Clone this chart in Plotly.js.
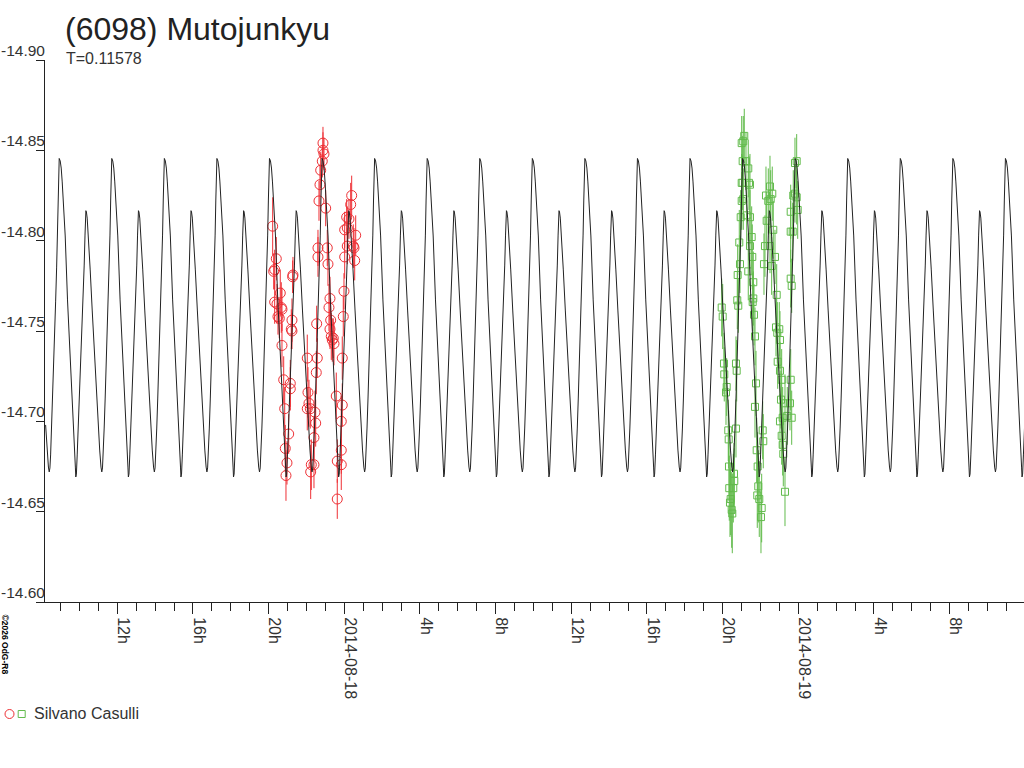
<!DOCTYPE html>
<html><head><meta charset="utf-8">
<script src="https://cdn.plot.ly/plotly-3.0.1.min.js"></script>
<style>html,body{margin:0;padding:0;background:#fff}#chart{width:1024px;height:768px}</style>
</head><body><div id="chart"></div>
<script>
// ---- data (times in hours from 2014-08-18 00:00) ----
const EPOCH = Date.UTC(2014, 7, 18, 0, 0, 0);
const PERIOD_DAYS = 0.11578;
const PEAK_HOUR = -12.29;           // epoch of a primary maximum of the fit
const X_RANGE_HOURS = [-15.82, 35.93];

// one period of the fitted light curve (phase 0 = primary maximum)
const fitPhase = [0,.0190,.0380,.0570,.0856,.1141,.1578,.1901,.2281,.2662,
  .2947,.3080,.3156,.3270,.3422,.3707,.3992,.4278,.4563,.4753,
  .4905,.5,.5076,.5171,.5323,.5608,.5894,.6274,.6654,.7034,
  .7414,.7700,.7947,.8099,.8232,.8365,.8555,.8745,.8935,.9125,
  .9316,.9506,.9658,.9791,.9886,.9943];
const fitMag = [-14.8455,-14.8441,-14.8402,-14.8325,-14.8181,-14.8026,-14.7672,-14.7489,-14.7273,-14.7046,
  -14.6852,-14.6742,-14.6692,-14.6708,-14.6814,-14.7018,-14.7229,-14.7450,-14.7699,-14.7865,
  -14.8031,-14.8125,-14.8166,-14.8159,-14.8125,-14.8004,-14.7838,-14.7616,-14.7395,-14.7173,
  -14.6980,-14.6841,-14.6747,-14.6720,-14.6742,-14.6814,-14.6963,-14.7129,-14.7301,-14.7478,
  -14.7661,-14.7849,-14.8031,-14.8225,-14.8347,-14.8413];

const redHours = [-3.785,-3.594,-3.679,-3.732,-3.383,-3.679,-3.558,-3.330,-3.293,-3.505,
  -3.436,-3.293,-3.203,-3.150,-2.939,-3.119,-3.029,-3.082,-2.712,-2.728,
  -2.765,-2.802,-2.765,-2.854,-2.854,-1.956,-1.427,-1.480,-1.459,-1.919,
  -1.866,-1.956,-1.797,-1.549,-1.512,-1.602,-1.744,-1.602,-1.776,-1.390,
  -1.390,-0.899,-0.862,-1.337,-0.983,-1.285,-1.247,-1.163,-1.126,-1.073,
  -1.126,-0.756,-0.809,-0.719,-0.756,-0.687,-0.634,-0.581,-0.544,-0.423,
  -0.106,-0.159,-0.159,-0.370,-0.159,-0.370,-0.106,-0.053,-0.016,0.391,
  0.338,0.127,0.248,0.159,0.021,0.603,0.159,0.476,0.513,0.021,
  0.550];
const redMag = [-14.808,-14.790,-14.784,-14.783,-14.771,-14.766,-14.765,-14.763,-14.762,-14.758,
  -14.757,-14.742,-14.723,-14.707,-14.693,-14.685,-14.677,-14.670,-14.781,-14.780,
  -14.756,-14.751,-14.750,-14.721,-14.718,-14.735,-14.735,-14.727,-14.754,-14.716,
  -14.710,-14.707,-14.707,-14.705,-14.699,-14.691,-14.676,-14.676,-14.672,-14.796,
  -14.791,-14.796,-14.787,-14.822,-14.818,-14.831,-14.839,-14.844,-14.850,-14.848,
  -14.854,-14.768,-14.763,-14.756,-14.751,-14.747,-14.745,-14.746,-14.743,-14.714,
  -14.709,-14.700,-14.684,-14.678,-14.676,-14.657,-14.735,-14.758,-14.772,-14.825,
  -14.820,-14.813,-14.812,-14.807,-14.806,-14.803,-14.797,-14.797,-14.796,-14.791,
  -14.789];
const redErr = [0.016,0.012,0.011,0.010,0.013,0.012,0.011,0.014,0.012,0.010,
  0.011,0.012,0.013,0.012,0.011,0.013,0.012,0.014,0.010,0.009,
  0.012,0.011,0.010,0.013,0.012,0.013,0.011,0.012,0.010,0.014,
  0.013,0.012,0.011,0.012,0.013,0.012,0.014,0.013,0.015,0.010,
  0.011,0.010,0.012,0.011,0.010,0.011,0.010,0.009,0.010,0.009,
  0.009,0.012,0.013,0.012,0.011,0.013,0.012,0.011,0.012,0.013,
  0.012,0.014,0.013,0.012,0.014,0.011,0.012,0.011,0.010,0.011,
  0.012,0.010,0.011,0.012,0.010,0.011,0.010,0.012,0.011,0.012,
  0.011];

const greenHours = [19.950,20.003,20.071,20.087,20.214,20.177,20.298,20.320,20.335,20.351,
  20.425,20.388,20.478,20.510,20.600,20.615,20.563,20.705,20.705,20.742,
  20.774,20.827,20.795,20.917,20.880,20.954,21.007,21.091,21.007,21.059,
  21.059,21.234,21.007,21.091,21.144,21.355,21.392,21.445,21.271,21.445,
  21.535,21.445,21.567,21.355,21.620,21.620,21.588,21.657,21.710,21.763,
  21.710,22.117,22.148,21.800,21.852,21.884,21.831,21.937,22.064,22.027,
  22.291,22.503,22.624,22.328,22.413,22.540,22.238,22.503,22.677,22.185,
  22.592,22.767,22.857,22.820,22.994,22.889,23.031,22.910,23.031,23.121,
  23.084,23.031,23.174,23.296,23.560,23.121,23.174,23.206,23.296,23.417,
  23.650,23.597,23.597,23.650,23.597,23.703,23.597,23.734,23.824,23.914,
  23.967,23.824,23.914];
const greenMag = [-14.763,-14.758,-14.732,-14.726,-14.719,-14.716,-14.695,-14.690,-14.675,-14.663,
  -14.657,-14.655,-14.651,-14.649,-14.671,-14.667,-14.663,-14.696,-14.732,-14.728,
  -14.767,-14.764,-14.781,-14.787,-14.799,-14.813,-14.822,-14.823,-14.832,-14.832,
  -14.844,-14.844,-14.854,-14.855,-14.858,-14.840,-14.832,-14.831,-14.814,-14.813,
  -14.802,-14.797,-14.791,-14.783,-14.777,-14.768,-14.766,-14.759,-14.747,-14.721,
  -14.708,-14.695,-14.689,-14.684,-14.675,-14.664,-14.659,-14.657,-14.652,-14.647,
  -14.825,-14.830,-14.826,-14.811,-14.822,-14.823,-14.797,-14.797,-14.806,-14.787,
  -14.786,-14.791,-14.770,-14.752,-14.751,-14.749,-14.745,-14.733,-14.728,-14.723,
  -14.712,-14.700,-14.702,-14.710,-14.710,-14.692,-14.687,-14.682,-14.661,-14.703,
  -14.702,-14.723,-14.779,-14.775,-14.805,-14.805,-14.816,-14.825,-14.826,-14.824,
  -14.817,-14.843,-14.844];
const greenErr = [0.016,0.018,0.017,0.015,0.016,0.018,0.017,0.016,0.019,0.018,
  0.020,0.019,0.021,0.022,0.017,0.018,0.019,0.016,0.015,0.017,
  0.016,0.015,0.017,0.016,0.018,0.015,0.016,0.017,0.016,0.015,
  0.014,0.016,0.015,0.014,0.015,0.016,0.015,0.017,0.016,0.015,
  0.017,0.016,0.018,0.016,0.017,0.015,0.016,0.017,0.016,0.018,
  0.017,0.016,0.015,0.018,0.019,0.020,0.018,0.021,0.019,0.020,
  0.016,0.017,0.015,0.016,0.018,0.016,0.017,0.015,0.016,0.017,
  0.016,0.015,0.017,0.016,0.015,0.017,0.016,0.015,0.016,0.017,
  0.016,0.015,0.017,0.016,0.015,0.016,0.017,0.018,0.019,0.016,
  0.015,0.017,0.016,0.015,0.017,0.016,0.015,0.014,0.016,0.015,
  0.016,0.014,0.015];

const xTickHours = [-12,-8,-4,0,4,8,12,16,20,24,28,32];
const xTickText = ['12h','16h','20h','2014-08-18','4h','8h','12h','16h','20h','2014-08-19','4h','8h'];
const yTickVals = [-14.90,-14.85,-14.80,-14.75,-14.70,-14.65,-14.60];
const yTickText = ['-14.90','-14.85','-14.80','-14.75','-14.70','-14.65','-14.60'];

// ---- build ----
function toDate(h){ return new Date(EPOCH + h*3600000).toISOString().replace('T',' ').replace('Z',''); }
const P_H = PERIOD_DAYS*24;
const fitX = [], fitY = [];
for (let k = -6; k <= 20; k++) {
  for (let i = 0; i < fitPhase.length; i++) {
    const h = PEAK_HOUR + (k + fitPhase[i]) * P_H;
    if (h >= X_RANGE_HOURS[0] - 0.05 && h <= X_RANGE_HOURS[1] + 0.05) { fitX.push(toDate(h)); fitY.push(fitMag[i]); }
  }
}
const RED = '#ee3035', GREEN = '#62bb4c', INK = '#222';
const traces = [
  {type:'scatter', mode:'markers', x:redHours.map(toDate), y:redMag,
   marker:{symbol:'circle-open', size:10, color:RED, line:{width:1, color:RED}},
   error_y:{type:'data', array:redErr, visible:true, color:RED, thickness:1, width:0}, hoverinfo:'skip'},
  {type:'scatter', mode:'markers', x:greenHours.map(toDate), y:greenMag,
   marker:{symbol:'square-open', size:7, color:GREEN, line:{width:1, color:GREEN}},
   error_y:{type:'data', array:greenErr, visible:true, color:GREEN, thickness:1, width:0}, hoverinfo:'skip'},
  {type:'scatter', mode:'lines', x:fitX, y:fitY, line:{color:INK, width:1}, hoverinfo:'skip'}
];

const FONT = '"Liberation Sans", Arial, sans-serif';
const annotations = yTickVals.map((v,i)=>({
  xref:'paper', x:0, xanchor:'right', xshift:2, yref:'y', y:v, yanchor:'bottom', yshift:-1,
  text:yTickText[i], showarrow:false, font:{size:15.5, color:'#333', family:FONT}
}));
annotations.push({xref:'paper', x:0, xanchor:'left', xshift:19, yref:'paper', y:1, yanchor:'middle', yshift:2,
  text:'T=0.11578', showarrow:false, font:{size:16, color:'#333', family:FONT}});
annotations.push({xref:'paper', x:0, xanchor:'left', xshift:-13, yref:'paper', y:0, yanchor:'middle', yshift:-111,
  text:'Silvano Casulli', showarrow:false, font:{size:16, color:'#333', family:FONT}});
annotations.push({xref:'paper', x:0, xanchor:'center', xshift:-40.5, yref:'paper', y:0, yanchor:'middle', yshift:-42,
  text:'<b>©2026 OdG-R8</b>', textangle:90, showarrow:false, font:{size:8.5, color:'#000', family:FONT}});

const shapes = [
  {type:'circle', xref:'paper', yref:'paper', xsizemode:'pixel', ysizemode:'pixel', xanchor:0, yanchor:0,
   x0:-40, x1:-31, y0:-116.5, y1:-107.5, line:{color:RED, width:1}},
  {type:'rect', xref:'paper', yref:'paper', xsizemode:'pixel', ysizemode:'pixel', xanchor:0, yanchor:0,
   x0:-26.8, x1:-19.8, y0:-115.5, y1:-108.5, line:{color:GREEN, width:1}}
];

const layout = {
  width:1024, height:768,
  margin:{l:45, r:0, t:60, b:166, pad:0},
  paper_bgcolor:'#fff', plot_bgcolor:'#fff',
  font:{family:FONT, color:'#333', size:16},
  showlegend:false,
  title:{text:'(6098) Mutojunkyu', font:{size:32, color:'#222', family:FONT},
         xref:'container', x:65/1024, xanchor:'left', yref:'container', y:1-29/768, yanchor:'middle'},
  xaxis:{type:'date', range:[toDate(X_RANGE_HOURS[0]), toDate(X_RANGE_HOURS[1])],
         tickmode:'array', tickvals:xTickHours.map(toDate), ticktext:xTickText, tickangle:90,
         ticks:'outside', ticklen:11, tickcolor:INK, tickwidth:1, ticklabelshift:6,
         tickfont:{size:16, color:'#333', family:FONT},
         showline:true, linecolor:INK, linewidth:1, showgrid:false, zeroline:false,
         minor:{tickmode:'linear', tick0:toDate(-24), dtick:3600000, ticks:'outside', ticklen:8, tickcolor:INK, tickwidth:1, showgrid:false}},
  yaxis:{range:[-14.60, -14.90], tickmode:'array', tickvals:yTickVals, showticklabels:false,
         ticks:'outside', ticklen:8, tickcolor:INK, tickwidth:1,
         showline:true, linecolor:INK, linewidth:1, showgrid:false, zeroline:false},
  annotations:annotations, shapes:shapes
};
Plotly.newPlot('chart', traces, layout, {staticPlot:true, displayModeBar:false});
</script></body></html>
